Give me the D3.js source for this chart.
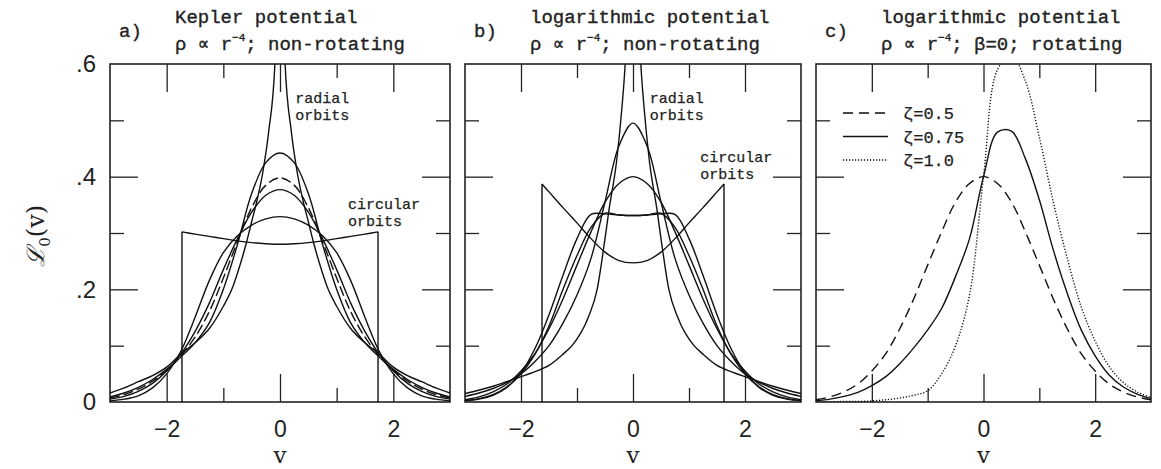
<!DOCTYPE html>
<html>
<head>
<meta charset="utf-8">
<title>Line profiles</title>
<script src="https://d3js.org/d3.v7.min.js"></script>
<style>
  body { margin: 0; background: #fff; }
  .tick line { stroke: #222; stroke-width: 1.3; }
  .tick text { font-family: "Liberation Sans", Arial, sans-serif; font-size: 23px; fill: #222; }
  .ttl { font-family: "Liberation Mono", "Courier New", monospace; font-size: 19px; fill: #222; stroke: #222; stroke-width: 0.35; }
  .note { font-family: "Liberation Mono", "Courier New", monospace; font-size: 15px; fill: #222; stroke: #222; stroke-width: 0.25; }
  .curve { fill: none; stroke: #111; stroke-width: 1.4; }
</style>
</head>
<body>
<div id="chart"></div>
<script>
// ---- data ----
var vGrid = [-3, -2.75, -2.5, -2.25, -2, -1.75, -1.5, -1.25, -1, -0.75, -0.5, -0.25, 0,
             0.25, 0.5, 0.75, 1, 1.25, 1.5, 1.75, 2, 2.25, 2.5, 2.75, 3];

// a) Kepler potential
var kepSpikeV = [-3, -2.75, -2.5, -2.25, -2, -1.75, -1.5, -1.25, -1, -0.85, -0.7, -0.6, -0.5, -0.4, -0.3, -0.2, -0.09, -0.04,
                 0.04, 0.09, 0.2, 0.3, 0.4, 0.5, 0.6, 0.7, 0.85, 1, 1.25, 1.5, 1.75, 2, 2.25, 2.5, 2.75, 3];
var kepSpike = [0.016, 0.025, 0.036, 0.047, 0.062, 0.085, 0.105, 0.13, 0.17, 0.2, 0.245, 0.28, 0.32, 0.36, 0.41, 0.48, 0.6, 0.8,
                0.8, 0.6, 0.48, 0.41, 0.36, 0.32, 0.28, 0.245, 0.2, 0.17, 0.13, 0.105, 0.085, 0.062, 0.047, 0.036, 0.025, 0.016];
var kep1 = [0.009, 0.016, 0.026, 0.04, 0.058, 0.08, 0.105, 0.14, 0.2, 0.28, 0.37, 0.425, 0.442,
            0.425, 0.37, 0.28, 0.2, 0.14, 0.105, 0.08, 0.058, 0.04, 0.026, 0.016, 0.009];
var kep2 = [0.007, 0.013, 0.023, 0.037, 0.056, 0.082, 0.115, 0.16, 0.22, 0.285, 0.345, 0.385, 0.398,
            0.385, 0.345, 0.285, 0.22, 0.16, 0.115, 0.082, 0.056, 0.037, 0.023, 0.013, 0.007];
var kep3 = [0.005, 0.01, 0.019, 0.033, 0.055, 0.085, 0.125, 0.175, 0.235, 0.29, 0.337, 0.367, 0.377,
            0.367, 0.337, 0.29, 0.235, 0.175, 0.125, 0.085, 0.055, 0.033, 0.019, 0.01, 0.005];
var kep4 = [0.002, 0.005, 0.011, 0.025, 0.05, 0.09, 0.15, 0.215, 0.265, 0.295, 0.314, 0.325, 0.329,
            0.325, 0.314, 0.295, 0.265, 0.215, 0.15, 0.09, 0.05, 0.025, 0.011, 0.005, 0.002];
var kepCircV = [-1.73, -1.5, -1.25, -1, -0.75, -0.5, -0.25, 0, 0.25, 0.5, 0.75, 1, 1.25, 1.5, 1.73];
var kepCirc = [0.302, 0.298, 0.294, 0.29, 0.286, 0.283, 0.281, 0.28, 0.281, 0.283, 0.286, 0.29, 0.294, 0.298, 0.302];

// b) logarithmic potential, non-rotating
var logSpikeV = [-3, -2.5, -2, -1.75, -1.5, -1.25, -1.09, -0.8, -0.64, -0.5, -0.43, -0.29, -0.2, -0.14, -0.06,
                 0.06, 0.14, 0.2, 0.29, 0.43, 0.5, 0.64, 0.8, 1.09, 1.25, 1.5, 1.75, 2, 2.5, 3];
var logSpike = [0.015, 0.028, 0.045, 0.054, 0.065, 0.085, 0.1, 0.15, 0.2, 0.29, 0.34, 0.43, 0.52, 0.6, 0.8,
                0.8, 0.6, 0.52, 0.43, 0.34, 0.29, 0.2, 0.15, 0.1, 0.085, 0.065, 0.054, 0.045, 0.028, 0.015];
var log1 = [0.01, 0.016, 0.024, 0.035, 0.05, 0.072, 0.1, 0.14, 0.19, 0.255, 0.355, 0.455, 0.495,
            0.455, 0.355, 0.255, 0.19, 0.14, 0.1, 0.072, 0.05, 0.035, 0.024, 0.016, 0.01];
var log2 = [0.004, 0.009, 0.018, 0.032, 0.055, 0.086, 0.13, 0.183, 0.243, 0.302, 0.355, 0.388, 0.4,
            0.388, 0.355, 0.302, 0.243, 0.183, 0.13, 0.086, 0.055, 0.032, 0.018, 0.009, 0.004];
var log3 = [0.003, 0.006, 0.013, 0.027, 0.05, 0.085, 0.135, 0.2, 0.26, 0.31, 0.335, 0.332, 0.331,
            0.332, 0.335, 0.31, 0.26, 0.2, 0.135, 0.085, 0.05, 0.027, 0.013, 0.006, 0.003];
var log4 = [0.002, 0.005, 0.012, 0.026, 0.052, 0.095, 0.155, 0.225, 0.29, 0.333, 0.334, 0.332, 0.331,
            0.332, 0.334, 0.333, 0.29, 0.225, 0.155, 0.095, 0.052, 0.026, 0.012, 0.005, 0.002];
var logCircV = [-1.625, -1.5, -1.25, -1, -0.75, -0.5, -0.25, 0, 0.25, 0.5, 0.75, 1, 1.25, 1.5, 1.625];
var logCirc = [0.387, 0.373, 0.345, 0.318, 0.29, 0.266, 0.251, 0.247, 0.251, 0.266, 0.29, 0.318, 0.345, 0.373, 0.387];

// c) logarithmic potential, rotating
var rotZeta = ["\u03b6=0.5", "\u03b6=0.75", "\u03b6=1.0"];
var rot05 = [0.004, 0.009, 0.018, 0.032, 0.055, 0.086, 0.13, 0.183, 0.243, 0.302, 0.355, 0.388, 0.4,
             0.388, 0.355, 0.302, 0.243, 0.183, 0.13, 0.086, 0.055, 0.032, 0.018, 0.009, 0.004];
var rot075 = [0.002, 0.005, 0.01, 0.017, 0.029, 0.045, 0.068, 0.096, 0.128, 0.166, 0.223, 0.29, 0.4,
              0.479, 0.481, 0.432, 0.359, 0.27, 0.193, 0.128, 0.082, 0.048, 0.027, 0.014, 0.006];
var rot10 = [0, 0, 0.001, 0.001, 0.002, 0.004, 0.007, 0.012, 0.02, 0.05, 0.1, 0.19, 0.4,
             0.59, 0.615, 0.57, 0.47, 0.355, 0.255, 0.169, 0.108, 0.063, 0.035, 0.018, 0.008];

var xMajor = [-2, 0, 2], xMinor = [-1, 1];
var yMajor = [0.2, 0.4], yMinor = [0.1, 0.3, 0.5], yLabels = [0, 0.2, 0.4, 0.6];

// ---- layout ----
var W = 1161, H = 469;
var top0 = 64, bot0 = 402;
var panelX = [[110, 450], [465, 801], [816, 1151]];

var svg = d3.select("#chart").append("svg")
  .attr("width", W).attr("height", H);

var y = d3.scaleLinear().domain([0, 0.6]).range([bot0, top0]);

function line(x, curve) {
  return d3.line().x(function(d) { return x(d[0]); }).y(function(d) { return y(d[1]); })
    .curve(curve || d3.curveCatmullRom.alpha(0.5));
}

function noDomain(g) { g.select(".domain").remove(); }

function drawFrame(i) {
  var x = d3.scaleLinear().domain([-3, 3]).range(panelX[i]);
  var g = svg.append("g");

  // inward ticks on all four sides
  var bl = g.append("g").attr("transform", "translate(0," + bot0 + ")")
    .call(d3.axisBottom(x).tickValues(xMajor).tickSize(-28).tickPadding(35)
      .tickFormat(function(d) { return d < 0 ? "\u2212" + (-d) : d; }))
    .call(noDomain);
  bl.selectAll(".tick text").attr("dy", "0em");
  g.append("g").attr("transform", "translate(0," + bot0 + ")")
    .call(d3.axisBottom(x).tickValues(xMinor).tickSize(-14).tickFormat("")).call(noDomain);
  g.append("g").attr("transform", "translate(0," + top0 + ")")
    .call(d3.axisTop(x).tickValues(xMajor).tickSize(-28).tickFormat("")).call(noDomain);
  g.append("g").attr("transform", "translate(0," + top0 + ")")
    .call(d3.axisTop(x).tickValues(xMinor).tickSize(-14).tickFormat("")).call(noDomain);

  g.append("g").attr("transform", "translate(" + panelX[i][0] + ",0)")
    .call(d3.axisLeft(y).tickValues(yMajor).tickSize(-28).tickFormat("")).call(noDomain);
  g.append("g").attr("transform", "translate(" + panelX[i][0] + ",0)")
    .call(d3.axisLeft(y).tickValues(yMinor).tickSize(-14).tickFormat("")).call(noDomain);
  g.append("g").attr("transform", "translate(" + panelX[i][1] + ",0)")
    .call(d3.axisRight(y).tickValues(yMajor).tickSize(-28).tickFormat("")).call(noDomain);
  g.append("g").attr("transform", "translate(" + panelX[i][1] + ",0)")
    .call(d3.axisRight(y).tickValues(yMinor).tickSize(-14).tickFormat("")).call(noDomain);

  if (i === 0) {
    g.append("g").attr("transform", "translate(" + panelX[i][0] + ",0)")
      .call(d3.axisLeft(y).tickValues(yLabels).tickSize(0).tickPadding(14)
        .tickFormat(function(d) { return d === 0 ? "0" : "." + Math.round(d * 10); }))
      .call(noDomain)
      .selectAll(".tick text").style("font-size", "24px");
  }

  g.append("rect")
    .attr("x", panelX[i][0]).attr("y", top0)
    .attr("width", panelX[i][1] - panelX[i][0]).attr("height", bot0 - top0)
    .attr("fill", "none").attr("stroke", "#222").attr("stroke-width", 1.6);

  svg.append("clipPath").attr("id", "clip" + i).append("rect")
    .attr("x", panelX[i][0]).attr("y", top0)
    .attr("width", panelX[i][1] - panelX[i][0]).attr("height", bot0 - top0);

  g.append("text")
    .attr("x", x(0)).attr("y", 463)
    .attr("text-anchor", "middle")
    .style("font-family", "DejaVu Serif, serif").style("font-size", "23px").attr("fill", "#222")
    .text("v");

  var plot = svg.append("g").attr("clip-path", "url(#clip" + i + ")");
  return { x: x, plot: plot };
}

function addCurve(p, xs, ys, dash, curve) {
  p.plot.append("path").datum(d3.zip(xs, ys))
    .attr("class", "curve")
    .attr("stroke-dasharray", dash || null)
    .attr("d", line(p.x, curve));
}

function addBox(p, xs, ys) {
  addCurve(p, xs, ys);
  var n = xs.length - 1;
  [[xs[0], ys[0]], [xs[n], ys[n]]].forEach(function(e) {
    p.plot.append("path").datum([[e[0], 0], e])
      .attr("class", "curve")
      .attr("d", line(p.x, d3.curveLinear));
  });
}

function addTitle(i, tag, line1, line2) {
  var x0 = panelX[i][0];
  svg.append("text").attr("class", "ttl").attr("x", x0 + 9).attr("y", 37).text(tag);
  svg.append("text").attr("class", "ttl").attr("x", x0 + 65).attr("y", 23).text(line1);
  var t = svg.append("text").attr("class", "ttl").attr("x", x0 + 65).attr("y", 50);
  t.append("tspan").text("\u03c1 \u221d r");
  t.append("tspan").attr("dy", -9).style("font-size", "11px").text("\u22124");
  t.append("tspan").attr("dy", 9).text(line2);
}

function addNote(p, vx, ly, lines) {
  lines.forEach(function(s, k) {
    svg.append("text").attr("class", "note")
      .attr("x", p.x(vx)).attr("y", y(ly) + k * 17).text(s);
  });
}

// ---- panel a ----
var pa = drawFrame(0);
addCurve(pa, kepSpikeV, kepSpike, null, d3.curveMonotoneX);
addCurve(pa, vGrid, kep1);
addCurve(pa, vGrid, kep2, "10,4");
addCurve(pa, vGrid, kep3);
addCurve(pa, vGrid, kep4);
addBox(pa, kepCircV, kepCirc);
addTitle(0, "a)", "Kepler potential", "; non-rotating");
addNote(pa, 0.27, 0.53, ["radial", "orbits"]);
addNote(pa, 1.2, 0.342, ["circular", "orbits"]);

// ---- panel b ----
var pb = drawFrame(1);
addCurve(pb, logSpikeV, logSpike, null, d3.curveMonotoneX);
addCurve(pb, vGrid, log1);
addCurve(pb, vGrid, log2);
addCurve(pb, vGrid, log3);
addCurve(pb, vGrid, log4);
addBox(pb, logCircV, logCirc);
addTitle(1, "b)", "logarithmic potential", "; non-rotating");
addNote(pb, 0.3, 0.53, ["radial", "orbits"]);
addNote(pb, 1.2, 0.426, ["circular", "orbits"]);

// ---- panel c ----
var pc = drawFrame(2);
var dashes = ["10,6", null, "1.2,1.8"];
[rot05, rot075, rot10].forEach(function(s, k) { addCurve(pc, vGrid, s, dashes[k]); });
addTitle(2, "c)", "logarithmic potential", "; \u03b2=0; rotating");

var legend = svg.append("g");
rotZeta.forEach(function(lbl, k) {
  var ly = 113 + k * 23.5;
  legend.append("line")
    .attr("x1", panelX[2][0] + 27).attr("x2", panelX[2][0] + 72)
    .attr("y1", ly).attr("y2", ly)
    .attr("stroke", "#111").attr("stroke-width", 1.4)
    .attr("stroke-dasharray", dashes[k]);
  legend.append("text").attr("class", "note")
    .attr("x", panelX[2][0] + 87).attr("y", ly + 6)
    .style("font-size", "17px").text(lbl);
});

// y axis title
var yt = svg.append("text")
  .attr("transform", "translate(44," + y(0.295) + ") rotate(-90)")
  .attr("text-anchor", "middle")
  .style("font-family", "DejaVu Serif, serif").style("font-size", "24px").attr("fill", "#222");
yt.append("tspan").style("font-style", "italic").text("\u2112");
yt.append("tspan").attr("dy", 6).style("font-size", "15px").text("0");
yt.append("tspan").attr("dy", -6).text("(v)");
</script>
</body>
</html>
